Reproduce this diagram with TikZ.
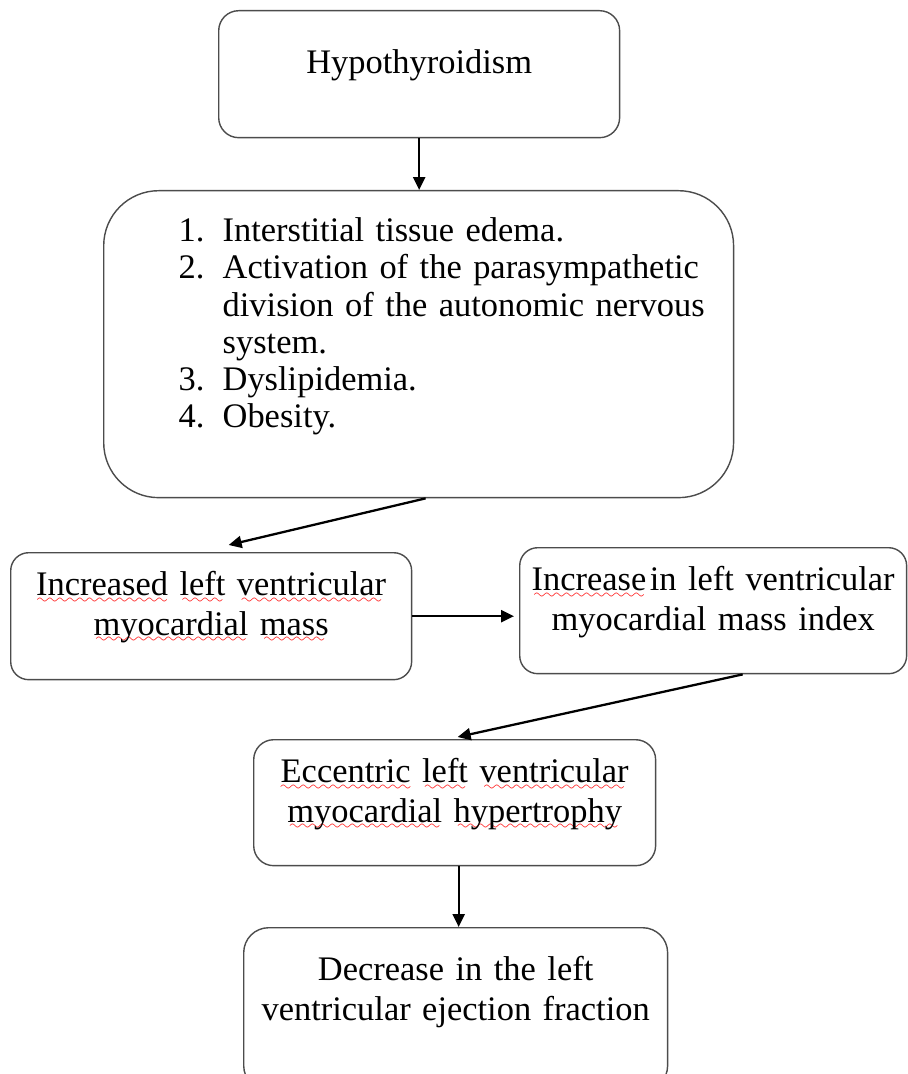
\documentclass[tikz,border=0pt]{standalone}
\usepackage{fontspec}
\setmainfont{Liberation Serif}
\usepackage{tikz}
\usetikzlibrary{positioning,arrows.meta}

\font\squigfont=lasy8
\newcommand{\squig}[1]{\leavevmode\setbox0\hbox{#1}\rlap{\textcolor{red}{\lower4.5pt\hbox to \wd0{\cleaders\hbox{\squigfont\char58}\hfill}}}#1}

\begin{document}
\begin{tikzpicture}[x=0.02cm, y=-0.02cm,
        stage/.style={draw=black!70, line width=0.8pt, rounded corners=0.4cm, anchor=north west,
            inner sep=0pt, align=center, font=\fontsize{19.6}{22.4}\selectfont},
        flow/.style={-{Triangle[length=0.26cm,width=0.24cm]}, line width=1.3pt}]
        \useasboundingbox (0,0) rectangle (908,1074);
        \clip (0,0) rectangle (908,1074);

        % Nodes
        \node[stage, text width=8.02cm, text height=1.26cm, text depth=1.28cm] (hypo) at (218,10) {Hypothyroidism};
        \node[stage, rounded corners=1.1cm, text width=12.6cm, text height=1.02cm, text depth=5.12cm,
            align=left, font=\fontsize{19.6}{21.2}\selectfont] (factors) at (103,190) {%
            \hspace*{1.5cm}\begin{tabular}[t]{@{}p{0.88cm}@{}l@{}}
                1. & Interstitial tissue edema.\\
                2. & \makebox[9.56cm][s]{Activation of the parasympathetic}\\
                   & \makebox[9.56cm][s]{division of the autonomic nervous}\\
                   & system.\\
                3. & Dyslipidemia.\\
                4. & Obesity.
            \end{tabular}};
        \node[stage, rounded corners=0.36cm, text width=8.02cm, text height=0.86cm, text depth=1.68cm] (mass) at (10,552)
            {\squig{Increased} \squig{left} \squig{ventricular}\\ \squig{myocardial} \squig{mass}};
        \node[stage, rounded corners=0.36cm, text width=7.74cm, text height=0.86cm, text depth=1.66cm] (index) at (519,547)
            {\squig{Increase}\hspace{0.1em}in left ventricular\\ myocardial mass index};
        \node[stage, text width=8.04cm, text height=0.86cm, text depth=1.66cm] (hypertrophy) at (253,739)
            {\squig{Eccentric} \squig{left} \squig{ventricular}\\ \squig{myocardial} \squig{hypertrophy}};
        \node[stage, rounded corners=0.5cm, text width=8.48cm, text height=1.06cm, text depth=2.2cm] (fraction) at (243,927)
            {Decrease in the left\\ ventricular ejection fraction};

        % Arrows
        \draw[flow] (hypo.south) -- (hypo.south |- factors.north);
        \draw[flow] ([xshift=0.14cm]factors.south) -- ([xshift=0.35cm,yshift=0.14cm]mass.north);
        \draw[flow] (mass.east) -- ([xshift=-0.1cm]mass.east -| index.west);
        \draw[flow] ([xshift=0.59cm]index.south) -- ([xshift=0.06cm,yshift=0.04cm]hypertrophy.north);
        \draw[flow] ([xshift=0.08cm]hypertrophy.south) -- ([xshift=0.08cm]hypertrophy.south |- fraction.north);
\end{tikzpicture}
\end{document}
